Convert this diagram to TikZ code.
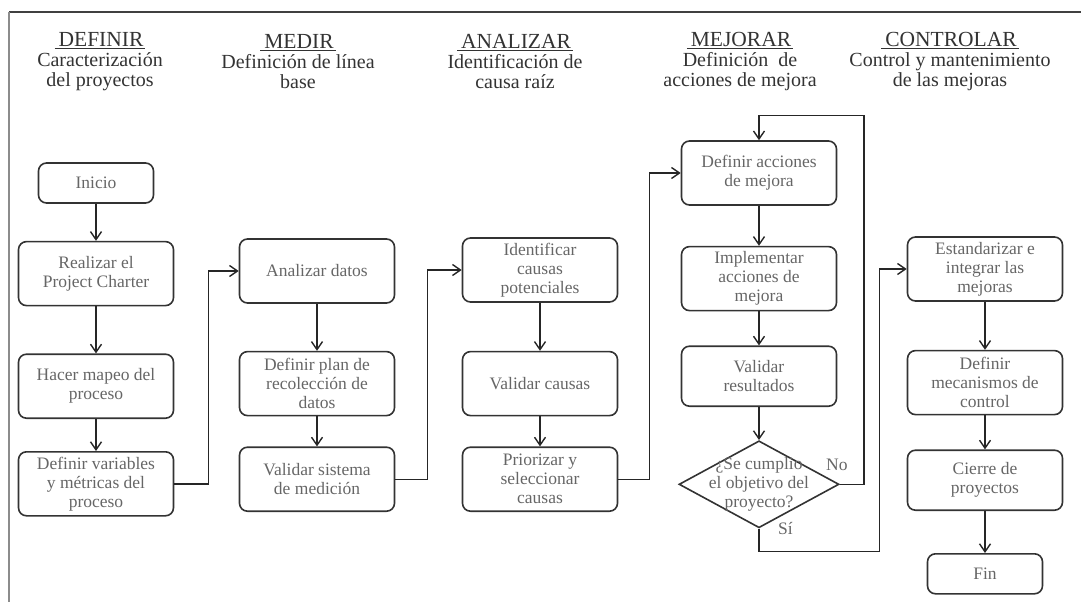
\documentclass[tikz,border=0pt]{standalone}
\usepackage{fontspec}
\setmainfont{Liberation Serif}
\usetikzlibrary{positioning, arrows.meta, shapes.geometric}

\newcommand{\phasetitle}[1]{{\fontsize{21.5}{20}\selectfont\underline{\hspace{4pt}#1\hspace{2pt}}}}

\begin{document}
\begin{tikzpicture}[x=1pt, y=-1pt,
  box/.style={draw=black!80, line width=1.6pt, rounded corners=8pt, minimum width=155pt, minimum height=64pt, inner sep=2pt, font=\fontsize{17.5}{19}\selectfont, align=center, text=black!60},
  term/.style={box, minimum width=115pt, minimum height=40pt},
  decision/.style={draw=black!80, line width=1.6pt, diamond, minimum width=160pt, minimum height=87pt, inner sep=0pt},
  dectext/.style={font=\fontsize{17.5}{19}\selectfont, align=center, text=black!60},
  head/.style={font=\fontsize{20}{20}\selectfont, align=center, text=black!80},
  arrow/.style={-{Straight Barb[length=8pt, width=11pt, line width=1.4pt]}, line width=1.4pt, draw=black!85},
  tag/.style={font=\fontsize{17.5}{19}\selectfont, text=black!60}
]
  \useasboundingbox (0,0) rectangle (1081,602);

  % Frame
  \draw[line width=2pt, black!75] (9,12) -- (1081,12);
  \draw[line width=1.5pt, black!45] (9,12) -- (9,602);

  % Phase headers
  \node[head] (hdefinir) at (100,62) {\phasetitle{DEFINIR}\\Caracterización\\del proyectos};
  \node[head] (hmedir) at (298,62) {\phasetitle{MEDIR}\\Definición de línea\\base};
  \node[head] (hanalizar) at (515,62) {\phasetitle{ANALIZAR}\\Identificación de\\causa raíz};
  \node[head] (hmejorar) at (740,62) {\phasetitle{MEJORAR}\\Definición\ \ de\\acciones de mejora};
  \node[head] (hcontrolar) at (950,62) {\phasetitle{CONTROLAR}\\Control y mantenimiento\\de las mejoras};

  % Definir
  \node[term] (inicio) at (96,183) {Inicio};
  \node[box, below=37pt of inicio] (charter) {Realizar el\\Project Charter};
  \node[box, below=47pt of charter] (mapeo) {Hacer mapeo del\\proceso};
  \node[box, below=32pt of mapeo] (variables) {Definir variables\\y métricas del\\proceso};

  % Medir
  \node[box] (datos) at (317,271) {Analizar datos};
  \node[box, below=47pt of datos] (plan) {Definir plan de\\recolección de\\datos};
  \node[box, below=30pt of plan] (sistema) {Validar sistema\\de medición};

  % Analizar
  \node[box] (potenciales) at (540,270) {Identificar\\causas\\potenciales};
  \node[box, below=48pt of potenciales] (validar) {Validar causas};
  \node[box, below=30pt of validar] (priorizar) {Priorizar y\\seleccionar\\causas};

  % Mejorar
  \node[box] (acciones) at (759,173) {Definir acciones\\de mejora};
  \node[box, below=40pt of acciones] (implementar) {Implementar\\acciones de\\mejora};
  \node[box, below=34pt of implementar, minimum height=60pt] (resultados) {Validar\\resultados};
  \node[decision, below=33pt of resultados, label={[dectext]center:{¿Se cumplio\\el objetivo del\\proyecto?}}] (objetivo) {};

  % Controlar
  \node[box] (estandarizar) at (985,269) {Estandarizar e\\integrar las\\mejoras};
  \node[box, below=48pt of estandarizar] (mecanismos) {Definir\\mecanismos de\\control};
  \node[box, below=34pt of mecanismos, minimum height=60pt] (cierre) {Cierre de\\proyectos};
  \node[term, below=42pt of cierre] (fin) {Fin};

  % Arrows
  \draw[arrow] (inicio) -- (charter);
  \draw[arrow] (charter) -- (mapeo);
  \draw[arrow] (mapeo) -- (variables);
  \draw[arrow] (variables.east) -- ++(34,0) |- (datos.west);
  \draw[arrow] (datos) -- (plan);
  \draw[arrow] (plan) -- (sistema);
  \draw[arrow] (sistema.east) -- ++(32,0) |- (potenciales.west);
  \draw[arrow] (potenciales) -- (validar);
  \draw[arrow] (validar) -- (priorizar);
  \draw[arrow] (priorizar.east) -- ++(31,0) |- (acciones.west);
  \draw[arrow] (acciones) -- (implementar);
  \draw[arrow] (implementar) -- (resultados);
  \draw[arrow] (resultados) -- (objetivo);
  \draw[arrow] (estandarizar) -- (mecanismos);
  \draw[arrow] (mecanismos) -- (cierre);
  \draw[arrow] (cierre) -- (fin);

  % Decision branches
  \coordinate[above=25pt of acciones.north] (retorno);
  \coordinate[left=27pt of estandarizar.west] (enlace);
  \draw[arrow] (objetivo.east) -- node[tag, pos=0, above, yshift=10pt, xshift=-3pt] {No} ++(24,0) |- (retorno) -- (acciones.north);
  \draw[arrow] (objetivo.south) -- node[tag, pos=0, right, xshift=15pt] {Sí} ++(0,23) -| (enlace) -- (estandarizar.west);

\end{tikzpicture}
\end{document}
